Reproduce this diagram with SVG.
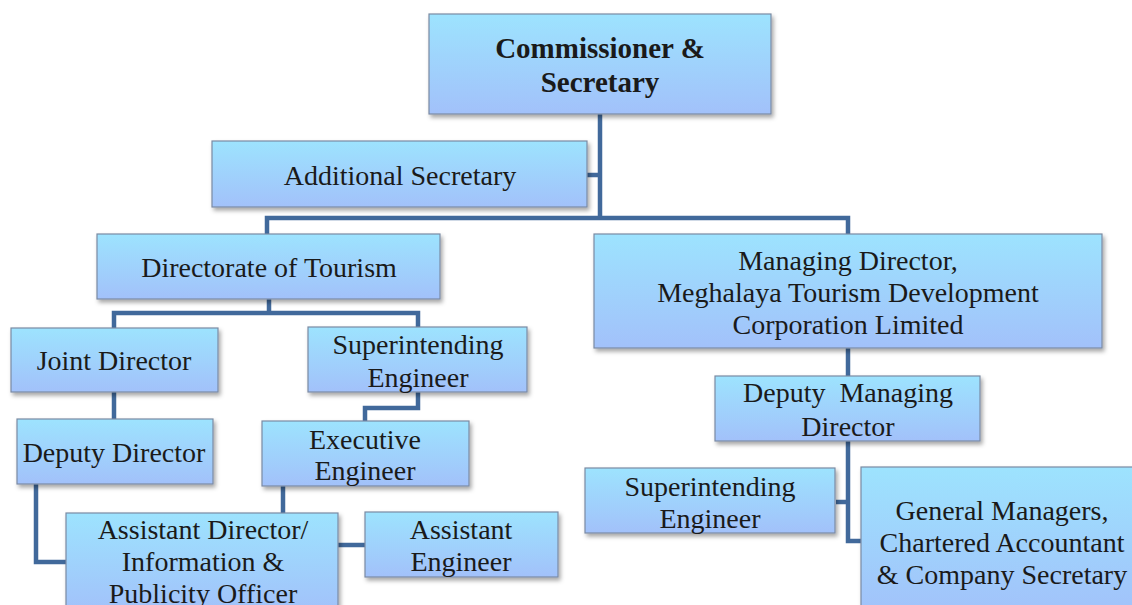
<svg xmlns="http://www.w3.org/2000/svg" width="1132" height="605" viewBox="0 0 1132 605">
<defs>
<linearGradient id="g" x1="0" y1="0" x2="0" y2="1">
<stop offset="0" stop-color="#9de3fe"/>
<stop offset="1" stop-color="#a2c1fa"/>
</linearGradient>
<filter id="sh" x="-10%" y="-10%" width="130%" height="140%">
<feDropShadow dx="2" dy="3" stdDeviation="2" flood-color="#000" flood-opacity="0.35"/>
</filter>
</defs>
<style>
.box{fill:url(#g);stroke:#7b8aa3;stroke-width:1.2;filter:url(#sh)}
.t{font-family:"Liberation Serif","Times New Roman",serif;font-size:28px;fill:#1a1a1a;text-anchor:middle;white-space:pre}
.b{font-weight:bold;font-size:29px}
.c{fill:none;stroke:#41699b;stroke-width:4.5}
</style>
<rect width="1132" height="605" fill="#fff"/>
<g id="connectors">
<path class="c" d="M600 114 V218 M587 175 H600 M267 234 V218 H848 V234"/>
<path class="c" d="M269 299 V313 M114 328 V313 H418 V327"/>
<path class="c" d="M114 392 V419"/>
<path class="c" d="M418 392 V408 H365 V421"/>
<path class="c" d="M283 486 V513"/>
<path class="c" d="M36 484 V562 H66"/>
<path class="c" d="M338 545 H365"/>
<path class="c" d="M848 348 V376"/>
<path class="c" d="M848 441 V541 H861 M836 502 H848"/>
</g>
<g id="commissioner">
<rect class="box" x="429" y="14" width="342" height="100"/>
<text class="t b" x="600" y="58">Commissioner &amp;</text>
<text class="t b" x="600" y="92">Secretary</text>
</g>
<g id="additional-secretary">
<rect class="box" x="212" y="141" width="375" height="66"/>
<text class="t" x="400" y="185">Additional Secretary</text>
</g>
<g id="directorate">
<rect class="box" x="97" y="234" width="343" height="65"/>
<text class="t" x="269" y="277">Directorate of Tourism</text>
</g>
<g id="managing-director">
<rect class="box" x="594" y="234" width="508" height="114"/>
<text class="t" x="848" y="270">Managing Director,</text>
<text class="t" x="848" y="302">Meghalaya Tourism Development</text>
<text class="t" x="848" y="334">Corporation Limited</text>
</g>
<g id="joint-director">
<rect class="box" x="11" y="328" width="207" height="64"/>
<text class="t" x="114" y="370">Joint Director</text>
</g>
<g id="superintending-engineer-1">
<rect class="box" x="308" y="327" width="219" height="65"/>
<text class="t" x="418" y="354">Superintending</text>
<text class="t" x="418" y="387">Engineer</text>
</g>
<g id="deputy-director">
<rect class="box" x="17" y="419" width="196" height="65"/>
<text class="t" x="114" y="462">Deputy Director</text>
</g>
<g id="executive-engineer">
<rect class="box" x="262" y="421" width="207" height="65"/>
<text class="t" x="365" y="449">Executive</text>
<text class="t" x="365" y="480">Engineer</text>
</g>
<g id="assistant-director">
<rect class="box" x="66" y="513" width="272" height="100"/>
<text class="t" x="203" y="539">Assistant Director/</text>
<text class="t" x="203" y="571">Information &amp;</text>
<text class="t" x="203" y="603">Publicity Officer</text>
</g>
<g id="assistant-engineer">
<rect class="box" x="365" y="512" width="193" height="65"/>
<text class="t" x="461" y="539">Assistant</text>
<text class="t" x="461" y="571">Engineer</text>
</g>
<g id="deputy-managing-director">
<rect class="box" x="715" y="376" width="265" height="65"/>
<text class="t" x="848" y="402">Deputy  Managing</text>
<text class="t" x="848" y="436">Director</text>
</g>
<g id="superintending-engineer-2">
<rect class="box" x="585" y="468" width="250" height="65"/>
<text class="t" x="710" y="496">Superintending</text>
<text class="t" x="710" y="528">Engineer</text>
</g>
<g id="general-managers">
<rect class="box" x="861" y="467" width="290" height="150"/>
<text class="t" x="1002" y="520">General Managers,</text>
<text class="t" x="1002" y="552">Chartered Accountant</text>
<text class="t" x="1002" y="584">&amp; Company Secretary</text>
</g>
</svg>
